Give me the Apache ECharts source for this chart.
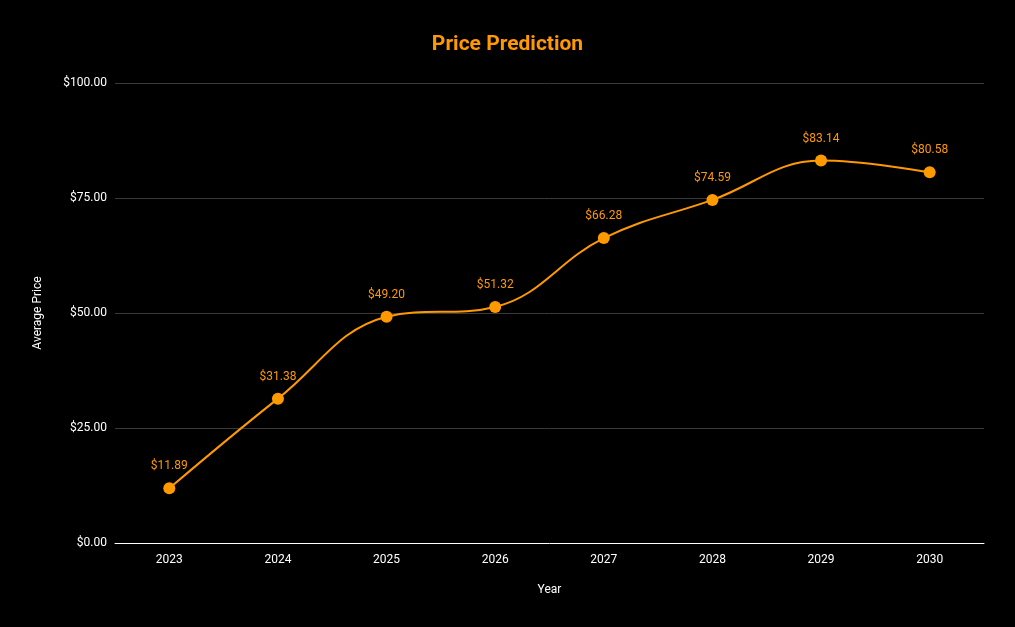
<!DOCTYPE html>
<html><head><meta charset="utf-8">
<script src="https://cdn.jsdelivr.net/npm/echarts@6/dist/echarts.min.js"></script>
<style>html,body{margin:0;padding:0;background:#000;}#c{width:1015px;height:627px;}</style>
</head><body><div id="c"></div>
<script>
const years = ['2023','2024','2025','2026','2027','2028','2029','2030'];
const prices = [11.89, 31.38, 49.20, 51.32, 66.28, 74.59, 83.14, 80.58];
const yTicks = [0, 25, 50, 75, 100];

const chart = echarts.init(document.getElementById('c'));
chart.setOption({
  backgroundColor: '#000000',
  textStyle: { fontFamily: 'Roboto' },
  title: {
    text: 'Price Prediction', left: 'center', top: 29,
    textStyle: { color: '#FF9900', fontSize: 21, fontWeight: 'bold', fontFamily: 'Roboto' }
  },
  grid: { left: 115, right: 31, top: 83, bottom: 84, containLabel: false },
  xAxis: {
    type: 'category', data: years, boundaryGap: true,
    name: 'Year', nameLocation: 'middle', nameGap: 41,
    nameTextStyle: { color: '#ffffff', fontSize: 12 },
    axisLine: { lineStyle: { color: '#ffffff', width: 1 } },
    axisTick: { show: false },
    axisLabel: { color: '#ffffff', fontSize: 12, margin: 11 }
  },
  yAxis: {
    type: 'value', min: yTicks[0], max: yTicks[yTicks.length-1], interval: 25,
    name: 'Average Price', nameLocation: 'middle', nameGap: 71, nameRotate: 90,
    nameTextStyle: { color: '#ffffff', fontSize: 12 },
    axisLine: { show: false }, axisTick: { show: false },
    axisLabel: { color: '#ffffff', fontSize: 12, margin: 8, formatter: v => '$' + v.toFixed(2) },
    splitLine: { lineStyle: { color: '#3a3a3a', width: 1 } }
  },
  series: [{
    type: 'line', data: prices, smooth: 0.4,
    symbol: 'circle', symbolSize: 12,
    itemStyle: { color: '#FF9900' },
    lineStyle: { color: '#FF9900', width: 2 },
    label: {
      show: true, position: 'top', distance: 10, color: '#FF9900', fontSize: 12,
      formatter: p => '$' + p.value.toFixed(2)
    },
    labelLine: { show: false },
    animation: false
  }],
  animation: false
});
</script></body></html>
